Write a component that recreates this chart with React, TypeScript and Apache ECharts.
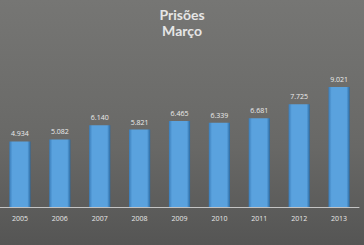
import React, { useEffect, useRef } from "react";
import * as echarts from "echarts";

const categories = ["2005", "2006", "2007", "2008", "2009", "2010", "2011", "2012", "2013"];
const values = [4934, 5082, 6140, 5821, 6465, 6339, 6681, 7725, 9021];
const titleText = "Prisões";
const subtitleText = "Março";

function fmt(v: number): string {
  return String(v).replace(/\B(?=(\d{3})+(?!\d))/g, ".");
}

export default function App() {
  const ref = useRef<HTMLDivElement>(null);
  useEffect(() => {
    if (!ref.current) return;
    const chart = echarts.init(ref.current, undefined, { renderer: "svg" });
    const tStyle = {
      color: "#e6e6e6",
      fontFamily: "Lato",
      fontWeight: "bold",
      fontSize: 14,
    };
    chart.setOption({
      animation: false,
      backgroundColor: new echarts.graphic.LinearGradient(0, 0, 0, 1, [
        { offset: 0, color: "#767674" },
        { offset: 0.6, color: "#686866" },
        { offset: 1, color: "#555554" },
      ]),
      title: {
        text: titleText,
        subtext: subtitleText,
        left: "center",
        top: 2,
        itemGap: 2,
        textStyle: tStyle,
        subtextStyle: tStyle,
      },
      grid: { left: -4, right: 5, top: 74, bottom: 38, containLabel: false },
      xAxis: {
        type: "category",
        data: categories,
        axisLine: { show: true, lineStyle: { color: "#c4c4c4", width: 1 } },
        axisTick: { show: false },
        axisLabel: {
          color: "#e8e8e8",
          fontSize: 7,
          fontFamily: "Open Sans",
          margin: 8,
        },
      },
      yAxis: {
        type: "value",
        min: 0,
        max: 10000,
        show: false,
        splitLine: { show: false },
      },
      series: [
        {
          type: "bar",
          data: values,
          barWidth: "53%",
          itemStyle: {
            color: new echarts.graphic.LinearGradient(0, 0, 1, 0, [
              { offset: 0, color: "#3a7dba" },
              { offset: 0.15, color: "#5aa2de" },
              { offset: 0.85, color: "#5aa2de" },
              { offset: 1, color: "#2b6aa2" },
            ]),
          },
          label: {
            show: true,
            position: "top",
            distance: 4,
            color: "#ececec",
            fontSize: 7,
            fontFamily: "Open Sans",
            formatter: (p: any) => fmt(p.value),
          },
        },
      ],
    });
    return () => chart.dispose();
  }, []);
  return (
    <div
      ref={ref}
      style={{ position: "fixed", left: 0, top: 0, width: 364, height: 245 }}
    />
  );
}
